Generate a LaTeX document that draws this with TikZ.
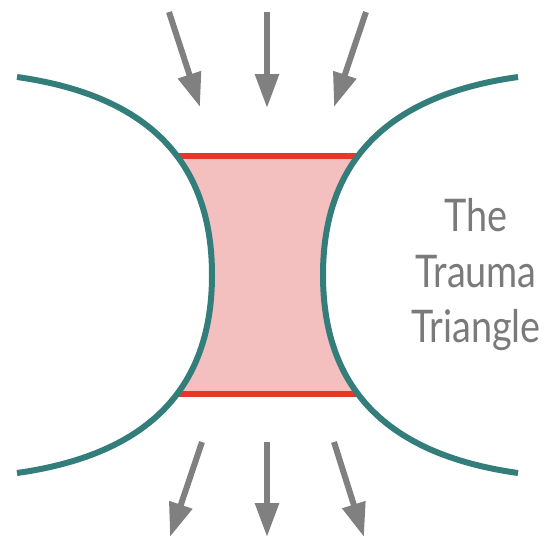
\documentclass[tikz,border=0pt]{standalone}
\usepackage{fontspec}
\setmainfont{Lato}[FakeStretch=0.84]
\usetikzlibrary{arrows.meta}
\definecolor{rimteal}{HTML}{337E7B}
\definecolor{bandred}{HTML}{E5372B}
\definecolor{bandpink}{HTML}{F4BFBF}
\definecolor{pushgray}{HTML}{808080}
\definecolor{labelgray}{HTML}{7A7A7A}
\tikzset{
  >={Triangle[length=34pt,width=23pt]},
  rim/.style={draw=rimteal,line width=6pt},
  bandline/.style={draw=bandred,line width=5.5pt},
  push/.style={->,draw=pushgray,fill=pushgray,line width=6pt},
  lbl/.style={font=\fontsize{45}{55.5}\selectfont,text=labelgray,align=center,
              inner sep=0pt},
}
\begin{document}
\begin{tikzpicture}[x=1pt,y=-1pt]
  \useasboundingbox (0,0) rectangle (549,539);
  % ends of the two red lines
  \coordinate (tl) at (177,156);
  \coordinate (tr) at (358,156);
  \coordinate (bl) at (177,394);
  \coordinate (br) at (358,394);
  % pink band between the arcs
  \begin{scope}
    \clip (0,156) rectangle (549,394);
    \fill[bandpink] (17,77) .. controls (152,96) and (212,165) .. (212,275)
      .. controls (212,385) and (152,454) .. (17,473) -- (518,473)
      .. controls (383,454) and (323,385) .. (323,275)
      .. controls (323,165) and (383,96) .. (518,77) -- cycle;
  \end{scope}
  \draw[bandline] (tl) -- (tr);
  \draw[bandline] (bl) -- (br);
  % the two arcs
  \draw[rim] (17,77) .. controls (152,96) and (212,165) .. (212,275)
    .. controls (212,385) and (152,454) .. (17,473);
  \draw[rim] (518,77) .. controls (383,96) and (323,165) .. (323,275)
    .. controls (323,385) and (383,454) .. (518,473);
  % pressure arrows
  \foreach \xa/\ya/\xb/\yb [count=\i] in {169/12/200/107,267/12/267/108,366/12/334/107} {
    \coordinate (in\i) at (\xa,\ya);
    \coordinate (it\i) at (\xb,\yb);
    \draw[push] (in\i) -- (it\i);
  }
  \foreach \xa/\ya/\xb/\yb [count=\i] in {202/442/170/537,267/442/267/537,334/442/364/537} {
    \coordinate (out\i) at (\xa,\ya);
    \coordinate (ot\i) at (\xb,\yb);
    \draw[push] (out\i) -- (ot\i);
  }
  \node[lbl] (title) at (476,275) {The\\Trauma\\Triangle};
\end{tikzpicture}
\end{document}
